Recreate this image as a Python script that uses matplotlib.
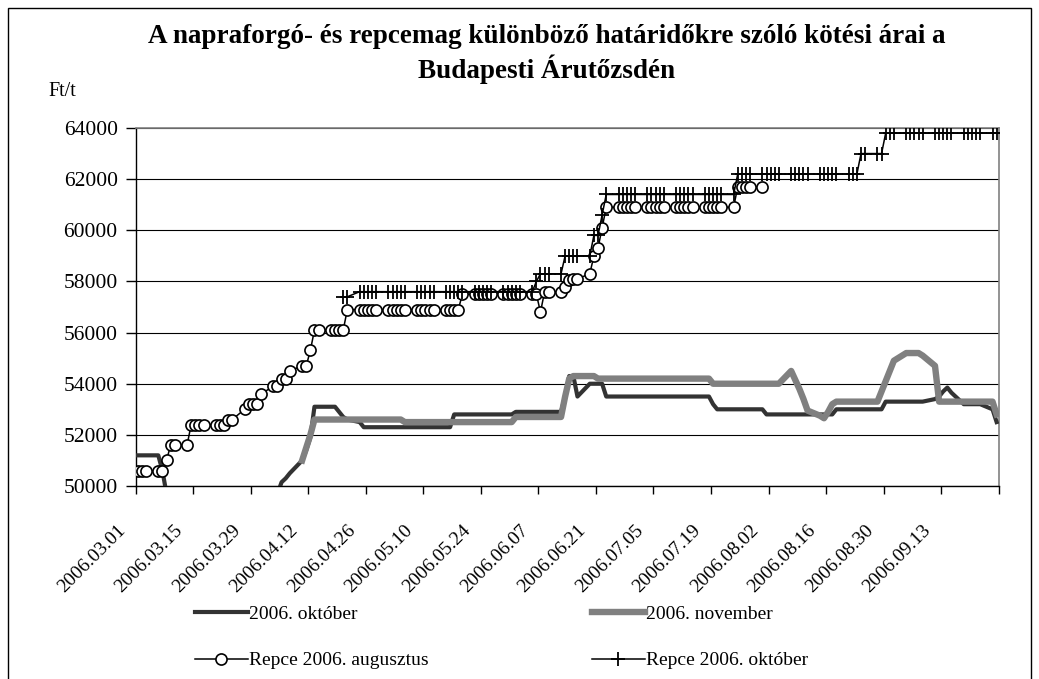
import matplotlib
matplotlib.use("Agg")
import matplotlib.pyplot as plt
import matplotlib.dates as mdates
from matplotlib.lines import Line2D
from matplotlib.patches import Rectangle
from matplotlib.transforms import ScaledTranslation
import numpy as np
import pandas as pd

plt.rcParams["font.family"] = ["Liberation Serif", "DejaVu Serif"]

TITLE = "A napraforgó- és repcemag különböző határidőkre szóló kötési árai a\nBudapesti Árutőzsdén"
UNIT = "Ft/t"

# trading days (weekdays) shown on the date axis
trade_days = pd.bdate_range("2006-03-01", "2006-09-26")

tick_labels = [
    "2006.03.01", "2006.03.15", "2006.03.29", "2006.04.12", "2006.04.26",
    "2006.05.10", "2006.05.24", "2006.06.07", "2006.06.21", "2006.07.05",
    "2006.07.19", "2006.08.02", "2006.08.16", "2006.08.30", "2006.09.13",
]
axis_end = "2006.09.27"

# one row per week (first week starts on Wednesday, last ends on Tuesday)
okt_2006 = [
    51200, 51200, 51200,
    51200, 50600, 49700, 49500, 49400,
    49300, 49200, 49200, 49100, 49100,
    49000, 49000, 49000, 49100, 49100,
    49200, 49300, 49300, 49400, 49400,
    49500, 49700, 50150, 50300, 50500,
    51000, 51400, 51900, 53100, 53100,
    53100, 53100, 52900, 52700, 52600,
    52500, 52300, 52300, 52300, 52300,
    52300, 52300, 52300, 52300, 52300,
    52300, 52300, 52300, 52300, 52300,
    52300, 52300, 52800, 52800, 52800,
    52800, 52800, 52800, 52800, 52800,
    52800, 52800, 52800, 52900, 52900,
    52900, 52900, 52900, 52900, 52900,
    52900, 53500, 54300, 54300, 53500,
    54000, 54000, 54000, 54000, 53500,
    53500, 53500, 53500, 53500, 53500,
    53500, 53500, 53500, 53500, 53500,
    53500, 53500, 53500, 53500, 53500,
    53500, 53500, 53200, 53000, 53000,
    53000, 53000, 53000, 53000, 53000,
    53000, 52800, 52800, 52800, 52800,
    52800, 52800, 52800, 52800, 52800,
    52800, 52800, 52800, 52800, 53000,
    53000, 53000, 53000, 53000, 53000,
    53000, 53000, 53300, 53300, 53300,
    53300, 53300, 53300, 53300, 53300,
    53400, 53500, 53700, 53850, 53650,
    53200, 53200, 53200, 53200, 53200,
    53000, 52500,
]

nov_2006 = [
    None, None, None,
    None, None, None, None, None,
    None, None, None, None, None,
    None, None, None, None, None,
    None, None, None, None, None,
    None, None, None, None, None,
    51000, 51500, 52000, 52600, 52600,
    52600, 52600, 52600, 52600, 52600,
    52600, 52600, 52600, 52600, 52600,
    52600, 52600, 52600, 52600, 52500,
    52500, 52500, 52500, 52500, 52500,
    52500, 52500, 52500, 52500, 52500,
    52500, 52500, 52500, 52500, 52500,
    52500, 52500, 52500, 52700, 52700,
    52700, 52700, 52700, 52700, 52700,
    52700, 53500, 54200, 54300, 54300,
    54300, 54300, 54200, 54200, 54200,
    54200, 54200, 54200, 54200, 54200,
    54200, 54200, 54200, 54200, 54200,
    54200, 54200, 54200, 54200, 54200,
    54200, 54200, 54000, 54000, 54000,
    54000, 54000, 54000, 54000, 54000,
    54000, 54000, 54000, 54000, 54000,
    54500, 54150, 53800, 53400, 52950,
    52750, 52650, 52900, 53200, 53300,
    53300, 53300, 53300, 53300, 53300,
    53300, 53700, 54100, 54500, 54900,
    55200, 55200, 55200, 55200, 55100,
    54700, 53300, 53300, 53300, 53300,
    53300, 53300, 53300, 53300, 53300,
    53300, 52800,
]

repce_aug = [
    50600, 50600, 50600,
    50600, 50600, 51000, 51600, 51600,
    51600, 52400, 52400, 52400, 52400,
    52400, 52400, 52400, 52600, 52600,
    53000, 53200, 53200, 53200, 53600,
    53900, 53900, 54200, 54200, 54500,
    54700, 54700, 55300, 56100, 56100,
    56100, 56100, 56100, 56100, 56900,
    56900, 56900, 56900, 56900, 56900,
    56900, 56900, 56900, 56900, 56900,
    56900, 56900, 56900, 56900, 56900,
    56900, 56900, 56900, 56900, 57500,
    57500, 57500, 57500, 57500, 57500,
    57500, 57500, 57500, 57500, 57500,
    57500, 57500, 56800, 57600, 57600,
    57600, 57800, 58050, 58100, 58100,
    58300, 59000, 59300, 60100, 60900,
    60900, 60900, 60900, 60900, 60900,
    60900, 60900, 60900, 60900, 60900,
    60900, 60900, 60900, 60900, 60900,
    60900, 60900, 60900, 60900, 60900,
    60900, 61700, 61700, 61700, 61700,
    61700, None, None, None, None,
    None, None, None, None, None,
    None, None, None, None, None,
    None, None, None, None, None,
    None, None, None, None, None,
    None, None, None, None, None,
    None, None, None, None, None,
    None, None, None, None, None,
    None, None,
]

repce_okt = [
    None, None, None,
    None, None, None, None, None,
    None, None, None, None, None,
    None, None, None, None, None,
    None, None, None, None, None,
    None, None, None, None, None,
    None, None, None, None, None,
    None, None, None, 57400, 57400,
    57600, 57600, 57600, 57600, 57600,
    57600, 57600, 57600, 57600, 57600,
    57600, 57600, 57600, 57600, 57600,
    57600, 57600, 57600, 57600, 57600,
    57600, 57600, 57600, 57600, 57600,
    57600, 57600, 57600, 57600, 57600,
    57600, 58000, 58300, 58300, 58300,
    58300, 59000, 59000, 59000, 59000,
    59000, 59800, 59800, 60600, 61400,
    61400, 61400, 61400, 61400, 61400,
    61400, 61400, 61400, 61400, 61400,
    61400, 61400, 61400, 61400, 61400,
    61400, 61400, 61400, 61400, 61400,
    61400, 62200, 62200, 62200, 62200,
    62200, 62200, 62200, 62200, 62200,
    62200, 62200, 62200, 62200, 62200,
    62200, 62200, 62200, 62200, 62200,
    62200, 62200, 62200, 63000, 63000,
    63000, 63000, 63800, 63800, 63800,
    63800, 63800, 63800, 63800, 63800,
    63800, 63800, 63800, 63800, 63800,
    63800, 63800, 63800, 63800, 63800,
    63800, 63800,
]

legend_labels = ["2006. október", "2006. november", "Repce 2006. augusztus", "Repce 2006. október"]


def as_array(values):
    return np.array([np.nan if v is None else v for v in values], dtype=float)


def main():
    fig = plt.figure(figsize=(10.39, 6.79), dpi=100)
    ax = fig.add_axes([0.1306, 0.2842, 0.8306, 0.5273])

    x = mdates.date2num(trade_days.to_pydatetime())

    ax.plot(x, as_array(okt_2006), color="#333333", lw=3.0,
            solid_joinstyle="round", zorder=3)
    ax.plot(x, as_array(nov_2006), color="#808080", lw=4.6,
            solid_joinstyle="round", zorder=4)
    ax.plot(x, as_array(repce_aug), color="black", lw=1.1, marker="o",
            ms=8, mfc="white", mec="black", mew=1.2, zorder=5)
    ax.plot(x, as_array(repce_okt), color="black", lw=1.1, marker="+",
            ms=10, mew=1.3, zorder=6)

    # date axis: tick marks between days, one label every 14 days
    label_days = pd.to_datetime(tick_labels + [axis_end], format="%Y.%m.%d")
    tick_pos = mdates.date2num(label_days.to_pydatetime()) - 0.5
    ax.set_xlim(tick_pos[0], tick_pos[-1])
    ax.set_xticks(tick_pos, tick_labels + [""])
    ax.tick_params(axis="x", direction="out", length=6, width=1, pad=20,
                   labelsize=14, colors="black")
    shift = ScaledTranslation(-7 / 100, 0, fig.dpi_scale_trans)
    for lab in ax.get_xticklabels():
        lab.set_rotation(45)
        lab.set_ha("right")
        lab.set_va("top")
        lab.set_transform(lab.get_transform() + shift)

    ax.set_ylim(50000, 64000)
    ax.set_yticks(range(50000, 64001, 2000))
    ax.tick_params(axis="y", direction="out", length=7, width=1, pad=6,
                   labelsize=15.5)
    ax.grid(axis="y", color="black", lw=0.8)
    ax.set_axisbelow(True)

    for side in ("top", "right"):
        ax.spines[side].set_color("#808080")
        ax.spines[side].set_linewidth(1.2)
    for side in ("left", "bottom"):
        ax.spines[side].set_color("black")
        ax.spines[side].set_linewidth(1.0)

    fig.text(547 / 1039, 1 - 54 / 679, TITLE, ha="center", va="center",
             fontsize=19.5, fontweight="bold", linespacing=1.2)
    fig.text(48 / 1039, 1 - 92 / 679, UNIT, ha="left", va="center", fontsize=14.5)

    h_okt = Line2D([], [], color="#333333", lw=3.0)
    h_nov = Line2D([], [], color="#808080", lw=4.6)
    h_aug = Line2D([], [], color="black", lw=1.1, marker="o", ms=8,
                   mfc="white", mec="black", mew=1.2)
    h_roct = Line2D([], [], color="black", lw=1.1, marker="+", ms=10, mew=1.3)

    common = dict(frameon=False, fontsize=14, handlelength=2.7,
                  handletextpad=0.1, labelspacing=1.5, borderpad=0,
                  borderaxespad=0, loc="upper left")
    fig.legend([h_okt, h_aug], [legend_labels[0], legend_labels[2]],
               bbox_to_anchor=(195 / 1039, 1 - 605 / 679), **common)
    fig.legend([h_nov, h_roct], [legend_labels[1], legend_labels[3]],
               bbox_to_anchor=(592 / 1039, 1 - 605 / 679), **common)

    # chart area frame
    fig.patches.append(Rectangle((8 / 1039, -0.05), 1023 / 1039, 1.05 - 8 / 679,
                                 transform=fig.transFigure, fill=False,
                                 edgecolor="black", lw=1.0))

    fig.savefig("out.png", dpi=100)
    plt.close(fig)


if __name__ == "__main__":
    main()
